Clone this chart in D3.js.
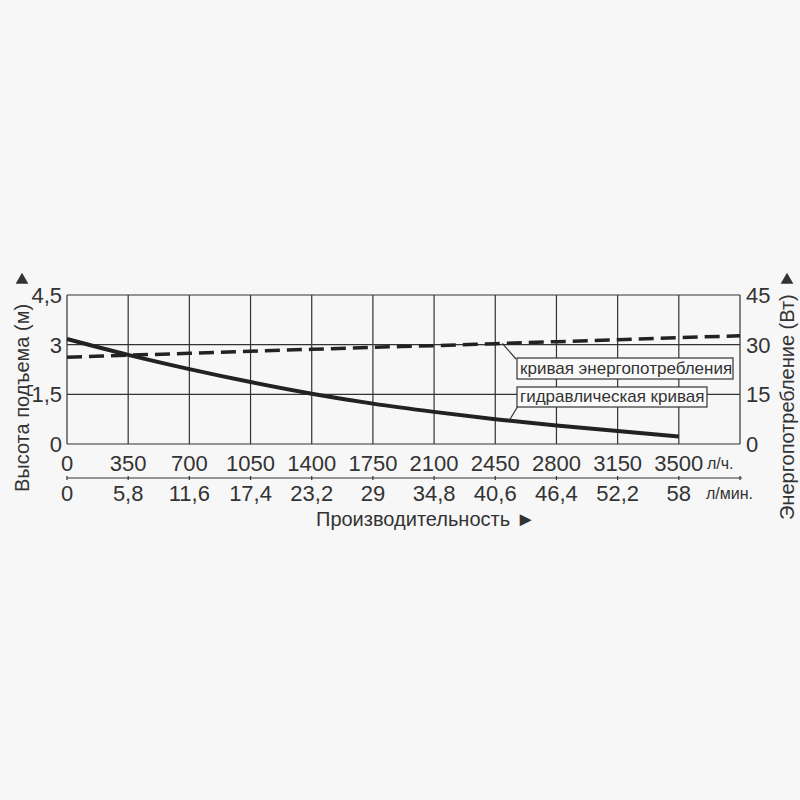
<!DOCTYPE html>
<html>
<head>
<meta charset="utf-8">
<script src="https://cdn.jsdelivr.net/npm/d3@7"></script>
<style>
  html, body { margin: 0; padding: 0; background: #f7f7f7; }
  svg { display: block; }
  text { font-family: "Liberation Sans Narrow", "Liberation Sans", Arial, sans-serif; fill: #333; }
</style>
</head>
<body>
<div id="chart"></div>
<script>
// flow ticks, l/h and l/min
const flowLph = [0, 350, 700, 1050, 1400, 1750, 2100, 2450, 2800, 3150, 3500];
const flowLmin = ['0', '5,8', '11,6', '17,4', '23,2', '29', '34,8', '40,6', '46,4', '52,2', '58'];
const headTicks = [0, 1.5, 3, 4.5];
const headLabels = ['0', '1,5', '3', '4,5'];
const powerTicks = [0, 15, 30, 45];

// hydraulic curve (head, m) at flowLph
const headM = [3.17, 2.69, 2.26, 1.87, 1.52, 1.22, 0.97, 0.75, 0.56, 0.39, 0.23];
// power curve (W)
const powerFlow = [0, 350, 700, 1050, 1400, 1750, 2100, 2450, 2800, 3150, 3500, 3850];
const powerW = [26.2, 26.8, 27.4, 28.0, 28.6, 29.2, 29.7, 30.3, 30.9, 31.5, 32.1, 32.7];

const width = 800;
const height = 800;
const ink = '#333';

const svg = d3.select('#chart').append('svg')
  .attr('width', width)
  .attr('height', height);

const x = d3.scaleLinear().domain([0, 3850]).range([67, 740]);
const yHead = d3.scaleLinear().domain([0, 4.5]).range([444, 295]);
const yPower = d3.scaleLinear().domain([0, 45]).range([444, 295]);

// grid
const grid = svg.append('g').attr('stroke', ink).attr('stroke-width', 1.2);
grid.selectAll('line.v')
  .data(flowLph.concat([3850]))
  .join('line')
    .attr('class', 'v')
    .attr('x1', d => x(d)).attr('x2', d => x(d))
    .attr('y1', yHead(4.5)).attr('y2', yHead(0));
grid.selectAll('line.h')
  .data(headTicks)
  .join('line')
    .attr('class', 'h')
    .attr('x1', x(0)).attr('x2', x(3850))
    .attr('y1', d => yHead(d)).attr('y2', d => yHead(d));

// left axis labels
svg.append('g')
  .selectAll('text')
  .data(headTicks)
  .join('text')
    .attr('x', x(0) - 5)
    .attr('y', d => yHead(d) + 8)
    .attr('text-anchor', 'end')
    .attr('font-size', 22)
    .text((d, i) => headLabels[i]);

// right axis labels
svg.append('g')
  .selectAll('text')
  .data(powerTicks)
  .join('text')
    .attr('x', x(3850) + 6)
    .attr('y', d => yPower(d) + 8)
    .attr('font-size', 22)
    .text(d => d);

// l/h tick labels
svg.append('g')
  .selectAll('text')
  .data(flowLph)
  .join('text')
    .attr('x', d => x(d))
    .attr('y', 471)
    .attr('text-anchor', 'middle')
    .attr('font-size', 22)
    .text(d => d);

svg.append('text')
  .attr('x', 707).attr('y', 469)
  .attr('font-size', 16)
  .text('л/ч.');

// secondary l/min axis
const axis2 = svg.append('g').attr('stroke', ink).attr('stroke-width', 1.2);
axis2.append('line')
  .attr('x1', x(0)).attr('x2', x(3850) + 2)
  .attr('y1', 478).attr('y2', 478);
axis2.selectAll('line.t')
  .data(flowLph.concat([3850]))
  .join('line')
    .attr('class', 't')
    .attr('x1', d => x(d)).attr('x2', d => x(d))
    .attr('y1', 476).attr('y2', 480);

svg.append('g')
  .selectAll('text')
  .data(flowLmin)
  .join('text')
    .attr('x', (d, i) => x(flowLph[i]))
    .attr('y', 501)
    .attr('text-anchor', 'middle')
    .attr('font-size', 22)
    .text(d => d);

svg.append('text')
  .attr('x', 706).attr('y', 499)
  .attr('font-size', 16)
  .text('л/мин.');

svg.append('text')
  .attr('x', 316).attr('y', 526)
  .attr('font-size', 20)
  .text('Производительность ►');

// axis titles
svg.append('text')
  .attr('transform', 'translate(29,492) rotate(-90)')
  .attr('font-size', 20)
  .text('Высота подъема (м)');

svg.append('text')
  .attr('transform', 'translate(794,520) rotate(-90)')
  .attr('font-size', 20)
  .text('Энергопотребление (Вт)');

// up arrows above the titles
const tri = d3.symbol(d3.symbolTriangle, 70);
svg.selectAll('path.arrow')
  .data([22, 787])
  .join('path')
    .attr('class', 'arrow')
    .attr('d', tri)
    .attr('transform', d => `translate(${d},280)`)
    .attr('fill', ink);

// curves
const headLine = d3.line()
  .x((d, i) => x(flowLph[i]))
  .y(d => yHead(d))
  .curve(d3.curveMonotoneX);

svg.append('path')
  .datum(headM)
  .attr('d', headLine)
  .attr('fill', 'none')
  .attr('stroke', '#222')
  .attr('stroke-width', 4);

const powerLine = d3.line()
  .x((d, i) => x(powerFlow[i]))
  .y(d => yPower(d))
  .curve(d3.curveMonotoneX);

svg.append('path')
  .datum(powerW)
  .attr('d', powerLine)
  .attr('fill', 'none')
  .attr('stroke', '#222')
  .attr('stroke-width', 3.5)
  .attr('stroke-dasharray', '15,7');

// callouts
const callouts = [
  { text: 'кривая энергопотребления', bx: 517, by: 358, bw: 216, bh: 21, lx: x(2490), ly: yPower(30.4), ax: 516, ay: 359 },
  { text: 'гидравлическая кривая', bx: 517, by: 387, bw: 190, bh: 20, lx: x(2530), ly: yHead(0.71), ax: 518, ay: 406 },
];

const co = svg.append('g');
callouts.forEach(c => {
  co.append('line')
    .attr('x1', c.lx).attr('y1', c.ly)
    .attr('x2', c.ax).attr('y2', c.ay)
    .attr('stroke', ink).attr('stroke-width', 1.2);
  co.append('rect')
    .attr('x', c.bx).attr('y', c.by)
    .attr('width', c.bw).attr('height', c.bh)
    .attr('fill', '#fafafa')
    .attr('stroke', ink).attr('stroke-width', 1.2);
  co.append('text')
    .attr('x', c.bx + 3).attr('y', c.by + c.bh - 5)
    .attr('font-size', 17)
    .text(c.text);
});
</script>
</body>
</html>
